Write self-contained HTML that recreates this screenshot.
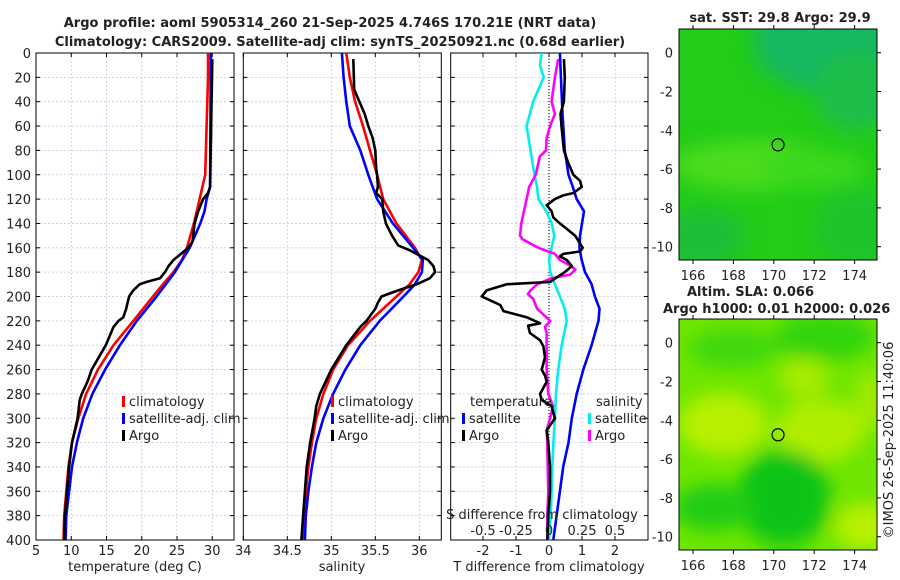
<!DOCTYPE html>
<html><head><meta charset="utf-8"><style>
html,body{margin:0;padding:0;background:#fff;width:900px;height:580px;overflow:hidden}
svg text{font-family:"DejaVu Sans","Liberation Sans",sans-serif;fill:#222}
</style></head><body>
<svg id="fig" width="900" height="580" viewBox="0 0 900 580" xmlns="http://www.w3.org/2000/svg">
<defs>
<filter id="blur8" x="-50%" y="-50%" width="200%" height="200%"><feGaussianBlur stdDeviation="9"/></filter>
<clipPath id="clipMap1"><rect x="679" y="29" width="198" height="231"/></clipPath>
<clipPath id="clipMap2"><rect x="679" y="319" width="198" height="231"/></clipPath>
</defs>
<text x="330" y="27" text-anchor="middle" font-size="13" font-weight="bold">Argo profile: aoml 5905314_260 21-Sep-2025 4.746S 170.21E (NRT data)</text>
<text x="340" y="46" text-anchor="middle" font-size="13" font-weight="bold">Climatology: CARS2009. Satellite-adj clim: synTS_20250921.nc (0.68d earlier)</text>
<g id="plots"></g>
<g id="maps"></g>
<text transform="translate(893,440) rotate(-90)" text-anchor="middle" font-size="13">©IMOS 26-Sep-2025 11:40:06</text>
</svg>
<script>
// ---- data ----
const tClimDepth=[0,20,40,60,80,100,110,120,140,160,170,180,190,200,220,240,260,280,300,320,340,360,380,400];
const tClim=[29.4,29.4,29.3,29.2,29.1,29.0,28.6,28.2,27.4,26.4,25.7,24.5,23.0,21.6,18.8,16.0,13.8,12.1,11.0,10.1,9.6,9.3,9.0,8.9];
const tSatDepth=[0,110,120,130,140,160,180,200,220,240,260,280,300,320,340,360,380,400];
const tSat=[29.8,29.7,29.2,28.9,28.3,26.8,24.7,22.1,19.3,16.9,14.8,13.0,11.7,10.8,10.1,9.7,9.3,9.2];
const tArgoDepth=[5,110,115,120,130,140,150,155,160,170,175,180,185,188,190,195,200,205,210,215,217,220,225,240,260,270,280,285,300,320,340,360,380,400];
const tArgo=[30.0,29.7,29.4,28.7,28.0,27.5,27.3,27.2,26.6,24.5,23.8,23.3,22.6,20.7,19.7,18.8,18.2,18.0,17.8,17.5,17.4,16.7,16.0,14.9,12.9,12.3,11.5,11.2,10.9,10.1,9.7,9.4,9.1,9.0];
const sClimDepth=[0,20,40,60,80,100,120,140,160,170,180,190,200,220,240,260,280,300,320,340,360,380,400];
const sClim=[35.17,35.21,35.27,35.36,35.44,35.52,35.59,35.74,35.95,36.03,35.99,35.89,35.74,35.44,35.19,35.02,34.91,34.83,34.78,34.74,34.71,34.69,34.68];
const sSatDepth=[0,20,40,60,80,100,120,140,160,170,180,190,200,220,240,260,280,300,320,340,360,380,400];
const sSat=[35.12,35.14,35.17,35.21,35.33,35.42,35.52,35.70,35.93,36.04,36.03,35.95,35.82,35.55,35.33,35.16,35.02,34.91,34.83,34.78,34.74,34.71,34.70];
const sArgoDepth=[5,30,35,50,60,70,80,95,100,110,115,120,130,140,150,158,162,170,175,180,185,190,193,196,200,205,210,215,220,225,240,260,280,290,300,320,340,360,380,400];
const sArgo=[35.25,35.26,35.29,35.38,35.42,35.47,35.50,35.51,35.52,35.53,35.51,35.58,35.59,35.62,35.69,35.76,35.89,36.10,36.16,36.18,36.12,35.97,35.84,35.72,35.57,35.53,35.50,35.45,35.40,35.33,35.17,35.00,34.87,34.83,34.81,34.76,34.72,34.70,34.68,34.66];
const dtSatDepth=[0,50,80,100,110,120,130,140,150,160,170,180,190,200,210,220,240,260,280,300,320,340,360,380,400];
const dtSat=[0.33,0.41,0.48,0.59,0.72,0.84,1.06,1.0,0.94,0.92,0.99,1.09,1.29,1.39,1.53,1.5,1.29,1.04,0.84,0.69,0.59,0.43,0.33,0.23,0.13];
const dtArgoDepth=[5,20,40,50,60,80,90,100,105,110,115,117,120,125,130,135,140,150,160,163,165,167,170,175,180,188,190,195,200,203,207,212,217,222,224,230,236,241,250,260,265,270,280,285,290,300,310,320,340,360,380,400];
const dtArgo=[0.45,0.48,0.45,0.35,0.38,0.45,0.58,0.74,0.94,0.99,0.74,0.43,0.18,-0.07,0.08,0.13,0.33,0.79,1.02,0.94,0.43,0.33,0.54,0.69,0.48,0.03,-1.28,-1.89,-2.04,-1.79,-1.48,-1.38,-0.68,-0.27,-0.63,-0.58,-0.27,-0.17,-0.12,-0.22,-0.12,-0.07,-0.27,-0.22,0.08,0.18,-0.07,-0.02,0.03,0.03,-0.02,-0.05];
const dsSatDepth=[0,10,20,40,60,80,100,110,120,130,140,150,160,170,180,190,200,210,220,240,260,280,300,320,340,360,380,400];
const dsSat=[-0.056,-0.068,-0.04,-0.12,-0.17,-0.14,-0.11,-0.09,-0.08,-0.02,0.02,0.04,0.02,0.0,0.01,0.045,0.083,0.12,0.134,0.096,0.07,0.053,0.045,0.033,0.025,0.02,0.013,0.0];
const dsArgoDepth=[5,20,40,50,60,70,80,85,95,100,110,120,140,150,153,160,165,170,175,178,182,185,190,195,198,202,210,215,220,225,230,240,260,280,290,300,310,320,340,360,380,400];
const dsArgo=[0.07,0.045,0.02,0.045,0.008,-0.018,-0.023,-0.07,-0.09,-0.1,-0.15,-0.17,-0.21,-0.22,-0.2,-0.08,0.045,0.083,0.17,0.2,0.16,0.02,-0.09,-0.14,-0.16,-0.12,-0.09,-0.04,0.01,-0.03,-0.018,-0.018,-0.018,-0.005,0.03,0.008,-0.018,-0.013,-0.01,-0.005,-0.013,-0.013];
const depthTicks=[0,20,40,60,80,100,120,140,160,180,200,220,240,260,280,300,320,340,360,380,400];
const tTicks=[5,10,15,20,25,30];
const sTicks=[34,34.5,35,35.5,36];
const dtTicks=[-2,-1,0,1,2];
const dsTicks=[-0.5,-0.25,0,0.25,0.5];
const dsTickLabels=["-0.5","-0.25","0","0.25","0.5"];
const latTicks=[0,-2,-4,-6,-8,-10];
const lonTicks=[166,168,170,172,174];
const argoLon=170.21, argoLat=-4.746;

// ---- helpers ----
const NS="http://www.w3.org/2000/svg";
function mk(tag,attrs,parent){const e=document.createElementNS(NS,tag);for(const k in attrs)e.setAttribute(k,attrs[k]);parent.appendChild(e);return e;}
const TOP=53,BOT=540;
const yD=d=>TOP+d*(BOT-TOP)/400;
const xT=t=>36+(t-5)*7.05;
const xS=s=>243.3+(s-34)*88;
const xDT=v=>549+v*33;
const xDS=v=>549+v*132;
const plots=document.getElementById('plots');

function panel(name,x0,x1,xticks,xf,labels){
  const g=mk('g',{},plots);
  
  
  depthTicks.forEach(d=>{
    const l=mk('line',{x1:x0,x2:x1,y1:yD(d),y2:yD(d),stroke:'#c5c9e6','stroke-width':0.8,'stroke-dasharray':'2,2'},g);
    
    
    mk('line',{x1:x0,x2:x0+4,y1:yD(d),y2:yD(d),stroke:'#000'},g);
    mk('line',{x1:x1-4,x2:x1,y1:yD(d),y2:yD(d),stroke:'#000'},g);
  });
  xticks.forEach((v,i)=>{
    const x=xf(v);
    if(x>x0+1&&x<x1-1){const l=mk('line',{x1:x,x2:x,y1:TOP,y2:BOT,stroke:'#c5c9e6','stroke-width':0.8,'stroke-dasharray':'2,2'},g);
    
    }
    mk('line',{x1:x,x2:x,y1:BOT,y2:BOT-4,stroke:'#000'},g);
    mk('line',{x1:x,x2:x,y1:TOP,y2:TOP+4,stroke:'#000'},g);
    if(labels){const t=mk('text',{x:x,y:555,'text-anchor':'middle','font-size':13},g);t.textContent=labels[i];
    
    }
  });
  const r=mk('rect',{x:x0,y:TOP,width:x1-x0,height:BOT-TOP,fill:'none',stroke:'#000','stroke-width':1},g);
  
  
  return g;
}
function series(g,name,depths,vals,xf,color){
  const pts=depths.map((d,i)=>xf(vals[i]).toFixed(1)+','+yD(d).toFixed(1)).join(' ');
  const p=mk('polyline',{points:pts,fill:'none',stroke:color,'stroke-width':2.6,'stroke-linejoin':'round'},g);
  
  
}
function legendItem(g,name,x,y,color,label){
  const m=mk('rect',{x:x-2,y:y-10,width:3,height:11,fill:color},g);
  
  
  const t=mk('text',{x:x+5,y:y,'font-size':13},g);t.textContent=label;
  
  
}

depthTicks.forEach(d=>{const t=mk('text',{x:31,y:yD(d)+5,'text-anchor':'end','font-size':13},plots);t.textContent=d;

});

const g1=panel('temperature-panel',36,234,tTicks,xT,tTicks.map(String));
series(g1,'temperature-climatology-line',tClimDepth,tClim,xT,'#ff0000');
series(g1,'temperature-satellite-line',tSatDepth,tSat,xT,'#0000ff');
series(g1,'temperature-argo-line',tArgoDepth,tArgo,xT,'#000000');
legendItem(g1,'legend-climatology',124,406,'#ff0000','climatology');
legendItem(g1,'legend-satellite-adj-clim',124,423,'#0000ff','satellite-adj. clim');
legendItem(g1,'legend-argo',124,440,'#000','Argo');
let t=mk('text',{x:135,y:571,'text-anchor':'middle','font-size':13},g1);t.textContent='temperature (deg C)';



const g2=panel('salinity-panel',243.3,441.3,sTicks,xS,sTicks.map(String));
series(g2,'salinity-climatology-line',sClimDepth,sClim,xS,'#ff0000');
series(g2,'salinity-satellite-line',sSatDepth,sSat,xS,'#0000ff');
series(g2,'salinity-argo-line',sArgoDepth,sArgo,xS,'#000000');
legendItem(g2,'legend-climatology-s',333,406,'#ff0000','climatology');
legendItem(g2,'legend-satellite-adj-clim-s',333,423,'#0000ff','satellite-adj. clim');
legendItem(g2,'legend-argo-s',333,440,'#000','Argo');
t=mk('text',{x:342,y:571,'text-anchor':'middle','font-size':13},g2);t.textContent='salinity';



const g3=panel('difference-panel',450.7,648,dtTicks,xDT,dtTicks.map(String));
const zl=mk('line',{x1:549,x2:549,y1:TOP,y2:BOT,stroke:'#000','stroke-width':1,'stroke-dasharray':'1,2'},g3);


series(g3,'salinity-satellite-diff-line',dsSatDepth,dsSat,xDS,'#00eeee');
series(g3,'salinity-argo-diff-line',dsArgoDepth,dsArgo,xDS,'#ff00ff');
series(g3,'temperature-satellite-diff-line',dtSatDepth,dtSat,xDT,'#0000ff');
series(g3,'temperature-argo-diff-line',dtArgoDepth,dtArgo,xDT,'#000000');
t=mk('text',{x:470,y:406,'font-size':13},g3);t.textContent='temperature';


t=mk('text',{x:596,y:406,'font-size':13},g3);t.textContent='salinity';


legendItem(g3,'legend-t-satellite',464,423,'#0000ff','satellite');
legendItem(g3,'legend-t-argo',464,440,'#000','Argo');
legendItem(g3,'legend-s-satellite',590,423,'#00eeee','satellite');
legendItem(g3,'legend-s-argo',590,440,'#ff00ff','Argo');
t=mk('text',{x:542,y:519,'text-anchor':'middle','font-size':13},g3);t.textContent='S difference from climatology';


dsTicks.forEach((v,i)=>{const tt=mk('text',{x:xDS(v),y:535,'text-anchor':'middle','font-size':13},g3);tt.textContent=dsTickLabels[i];

});
t=mk('text',{x:549,y:571,'text-anchor':'middle','font-size':13},g3);t.textContent='T difference from climatology';



const maps=document.getElementById('maps');
const mapLon=l=>693+(l-166)*20.2;
function map(name,top,lat0y,clipId,base,blobs){
  const g=mk('g',{},maps);
  
  
  const latY=l=>lat0y-l*19.4;
  const c=mk('g',{'clip-path':'url(#'+clipId+')'},g);
  mk('rect',{x:679,y:top,width:198,height:231,fill:base},c);
  const bg=mk('g',{filter:'url(#blur8)'},c);
  blobs.forEach(b=>mk('ellipse',{cx:mapLon(b[0]),cy:latY(b[1]),rx:b[2]*20.2,ry:b[3]*19.4,fill:b[4]},bg));
  const fr=mk('rect',{x:679,y:top,width:198,height:231,fill:'none',stroke:'#000','stroke-width':1},g);
  
  
  latTicks.forEach(l=>{
    mk('line',{x1:877,x2:881,y1:latY(l),y2:latY(l),stroke:'#000'},g);
    const tt=mk('text',{x:673,y:latY(l)+5,'text-anchor':'end','font-size':13},g);tt.textContent=l;
    
    
  });
  lonTicks.forEach(l=>{
    mk('line',{x1:mapLon(l),x2:mapLon(l),y1:top+231,y2:top+235,stroke:'#000'},g);
    mk('line',{x1:mapLon(l),x2:mapLon(l),y1:top,y2:top-4,stroke:'#000'},g);
    const tt=mk('text',{x:mapLon(l),y:top+251,'text-anchor':'middle','font-size':13},g);tt.textContent=l;
    
    
  });
  const ci=mk('circle',{cx:mapLon(argoLon),cy:latY(argoLat),r:6,fill:'none',stroke:'#000','stroke-width':1.2},g);
  
  
  return g;
}
const m1=map('sst-map',29,52.7,'clipMap1','#22cc18',[
 [172.5,0.5,3.5,2.5,'#16b860'],[174,-2,2,2,'#1cbe48'],[169,-5.8,4,1.3,'#4cdc1c'],[172,-6,2.5,1,'#3ad81a'],[166.5,-9.5,2,1.5,'#1cbe38'],[174,-9,2,2,'#1ec42a']
]);
let mt=mk('text',{x:780,y:22,'text-anchor':'middle','font-size':13,'font-weight':'bold'},m1);mt.textContent='sat. SST: 29.8 Argo: 29.9';


const m2=map('sla-map',319,342.7,'clipMap2','#6ee600',[
 [172.5,0.3,2.5,1.2,'#30d410'],[168,-0.3,2.2,1,'#40d80a'],[167.5,-4.2,2.2,1.6,'#b8f000'],[172.3,-4.5,2.2,1.6,'#b0ee00'],[171.5,-1.8,1.2,1,'#a8ec00'],
 [170.5,-8,2.3,2.5,'#10c418'],[167,-8.5,2,1.2,'#20cc14'],[174.5,-9.5,1.5,1.2,'#b8f000'],[174.8,-3,0.8,1.5,'#a0ea00']
]);
mt=mk('text',{x:687,y:296,'font-size':13,'font-weight':'bold'},m2);mt.textContent='Altim. SLA: 0.066';


mt=mk('text',{x:663,y:313,'font-size':13,'font-weight':'bold'},m2);mt.textContent='Argo h1000: 0.01 h2000: 0.026';


</script>
</body></html>
